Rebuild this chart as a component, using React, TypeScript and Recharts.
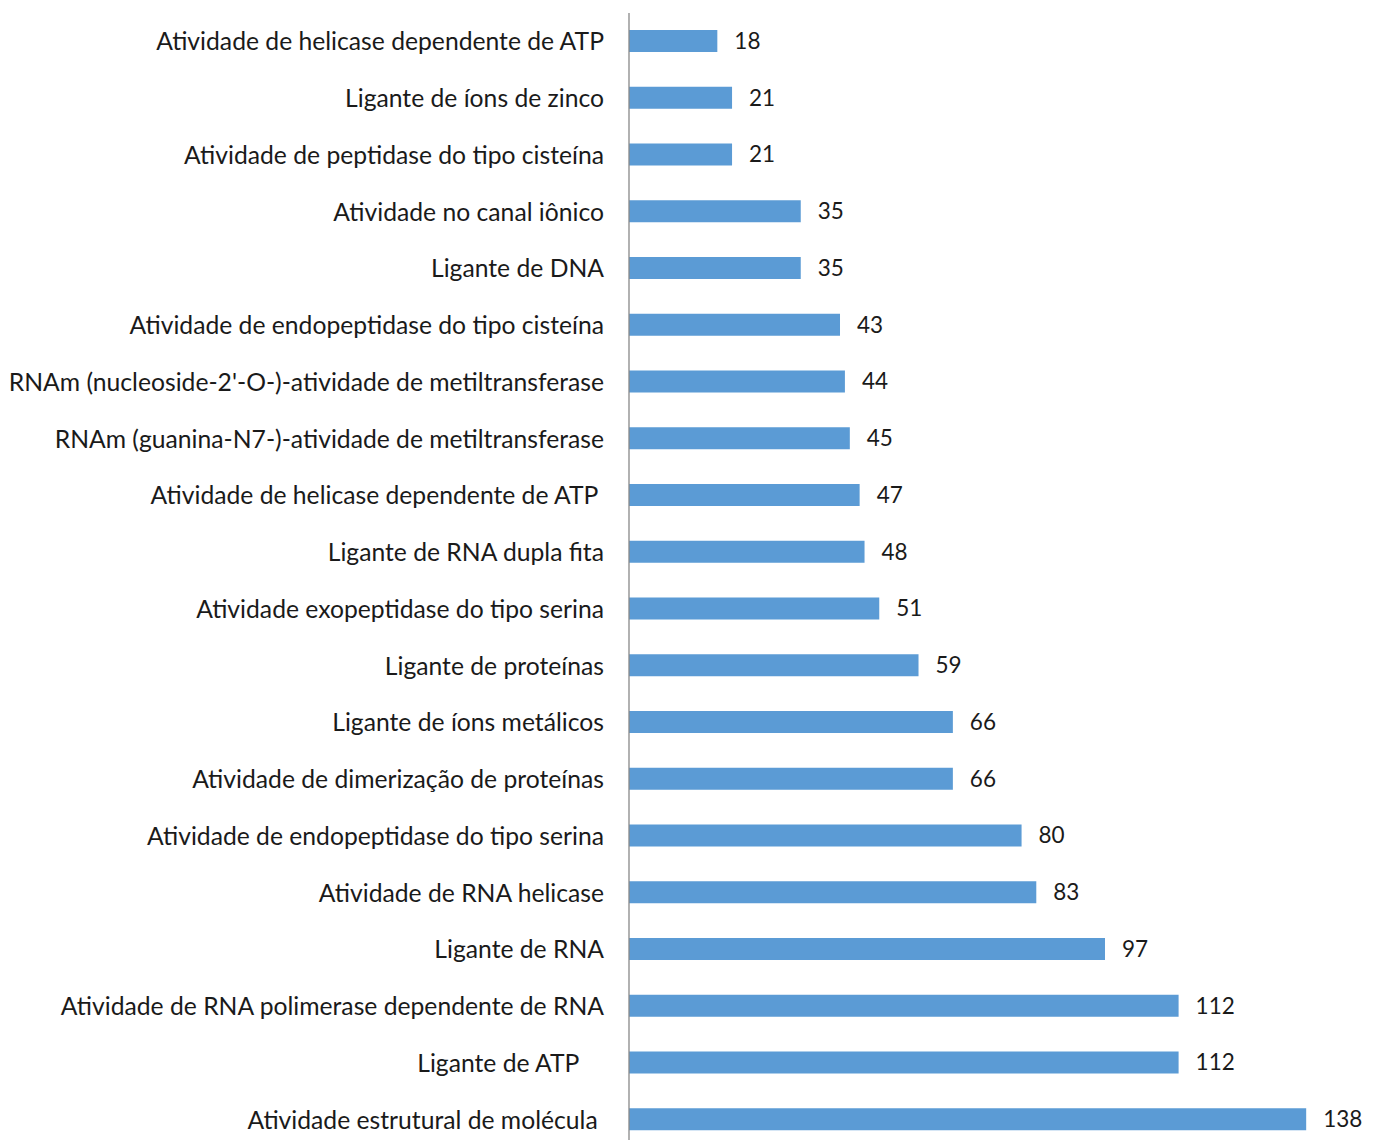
import { BarChart, Bar, XAxis, YAxis, LabelList } from 'recharts';

const categories = [
  'Atividade de helicase dependente de ATP',
  'Ligante de íons de zinco',
  'Atividade de peptidase do tipo cisteína',
  'Atividade no canal iônico',
  'Ligante de DNA',
  'Atividade de endopeptidase do tipo cisteína',
  "RNAm (nucleoside-2'-O-)-atividade de metiltransferase",
  'RNAm (guanina-N7-)-atividade de metiltransferase',
  'Atividade de helicase dependente de ATP ',
  'Ligante de RNA dupla fita',
  'Atividade exopeptidase do tipo serina',
  'Ligante de proteínas',
  'Ligante de íons metálicos',
  'Atividade de dimerização de proteínas',
  'Atividade de endopeptidase do tipo serina',
  'Atividade de RNA helicase',
  'Ligante de RNA',
  'Atividade de RNA polimerase dependente de RNA',
  'Ligante de ATP    ',
  'Atividade estrutural de molécula ',
];

const counts = [18, 21, 21, 35, 35, 43, 44, 45, 47, 48, 51, 59, 66, 66, 80, 83, 97, 112, 112, 138];

const data = categories.map((name, i) => ({ name, value: counts[i] }));

const FONT = 'Lato, "Open Sans", sans-serif';

function CategoryTick(props: any) {
  const { x, y, payload } = props;
  return (
    <text
      x={x}
      y={y}
      dy="0.36em"
      textAnchor="end"
      fill="#1a1a1a"
      fontSize={24.7}
      fontFamily={FONT}
      style={{ whiteSpace: 'pre' }}
    >
      {payload.value}
    </text>
  );
}

export default function App() {
  return (
    <div style={{ position: 'absolute', left: 0, top: 0, background: '#fff' }}>
      <BarChart
        width={1376}
        height={1148}
        data={data}
        layout="vertical"
        margin={{ top: 13, right: 60, left: 0, bottom: 0 }}
        barCategoryGap={17}
      >
        <XAxis type="number" domain={[0, 140]} hide />
        <YAxis
          type="category"
          dataKey="name"
          width={629}
          axisLine={{ stroke: '#888', strokeWidth: 1.3 }}
          tickLine={false}
          tickSize={0}
          tickMargin={25}
          interval={0}
          tick={<CategoryTick />}
        />
        <Bar dataKey="value" fill="#5b9bd5" barSize={22} isAnimationActive={false}>
          <LabelList
            dataKey="value"
            position="right"
            offset={17}
            fill="#1a1a1a"
            fontSize={22.5}
            fontFamily={FONT}
          />
        </Bar>
      </BarChart>
    </div>
  );
}
